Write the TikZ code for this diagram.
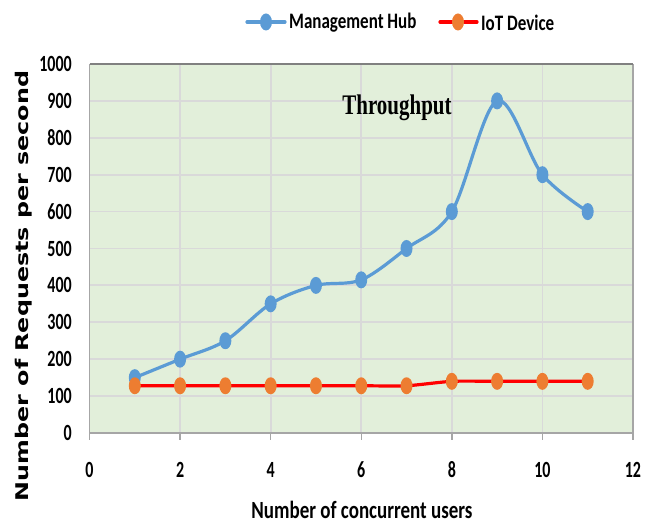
\documentclass[tikz,border=0pt]{standalone}
\usepackage{fontspec}
\setmainfont{Carlito}
\newfontfamily\labelfont{DejaVu Sans}
\newfontfamily\titlefont{Liberation Serif}
\usetikzlibrary{}

\definecolor{plotbg}{HTML}{E2EFDA}
\definecolor{gridc}{HTML}{D9D9D9}
\definecolor{axisc}{HTML}{A6A6A6}
\definecolor{hubblue}{HTML}{5B9BD5}
\definecolor{iotorange}{HTML}{ED7D31}
\definecolor{iotred}{HTML}{FF0000}

% tall, narrow lettering
\newcommand{\tallbf}[2][1.45]{\scalebox{1}[#1]{\bfseries #2}}

\tikzset{
  ticklabel/.style={font=\fontsize{16}{16}\selectfont, inner sep=0pt},
  hubline/.style={hubblue, line width=3.2pt, line cap=round, line join=round},
  iotline/.style={iotred, line width=3.2pt, line cap=round, line join=round},
  gridline/.style={gridc, line width=1.8pt},
}

\begin{document}
\begin{tikzpicture}[x=1pt, y=1pt]
\useasboundingbox (0,0) rectangle (654,526);

% legend
\draw[hubline] (247,504) -- (285,504);
\fill[hubblue] (266,504) ellipse (6 and 8.5);
\node[anchor=west, inner sep=0pt] (leghub) at (289,503) {\fontsize{17}{17}\selectfont\tallbf[1.3]{Management Hub}};
\draw[iotline] (440,504) -- (477,504);
\fill[iotorange] (458,504) ellipse (6 and 8.5);
\node[anchor=west, inner sep=0pt] (legiot) at (481,503) {\fontsize{17}{17}\selectfont\tallbf[1.3]{IoT Device}};

\begin{scope}[shift={(89.5pt,93pt)}, x=45.29pt, y=0.369pt]
  % plot area
  \fill[plotbg] (0,0) rectangle (12,1000);
  \foreach \v in {100,200,...,900} \draw[gridline] (0,\v) -- (12,\v);
  \foreach \u in {2,4,...,10} \draw[gridline] (\u,0) -- (\u,1000);
  \draw[axisc, line width=1.6pt] (0,0) -- (0,1000);
  \draw[axisc, line width=1.6pt] (12,0) -- (12,1000);
  \draw[gray, line width=2pt] (0,1000) -- (12,1000);
  % horizontal axis with ticks
  \draw[axisc, line width=1.6pt] (0,0) -- (12,0);
  \foreach \u in {0,2,...,12} \draw[axisc, line width=1.4pt] (\u,0) -- ++(0,-20);

  % tick labels
  \foreach \v in {0,100,...,1000}
    \node[ticklabel, anchor=east] (yl\v) at ([xshift=-17.5pt]0,\v) {\tallbf{\v}};
  \foreach \u in {0,2,...,12}
    \node[ticklabel] (xl\u) at ([yshift=-37pt]\u,0) {\tallbf{\u}};

  % Management Hub series
  \draw[hubline] plot[smooth, tension=0.55] coordinates {
    (1,150) (2,200) (3,250) (4,350) (5,400) (6,415)
    (7,500) (8,600) (9,900) (10,700) (11,600)};
  \foreach \u/\v in {1/150,2/200,3/250,4/350,5/400,6/415,7/500,8/600,9/900,10/700,11/600}
    \fill[hubblue] (\u,\v) ellipse (6pt and 8.5pt);

  % IoT Device series
  \draw[iotline] plot[smooth, tension=0.4] coordinates {
    (1,128) (2,128) (3,128) (4,128) (5,128) (6,128)
    (7,128) (8,140) (9,140) (10,140) (11,140)};
  \foreach \u/\v in {1/128,2/128,3/128,4/128,5/128,6/128,7/128,8/140,9/140,10/140,11/140}
    \fill[iotorange] (\u,\v) ellipse (6pt and 8.5pt);
\end{scope}

% titles
\node[inner sep=0pt] (charttitle) at (397,418) {\titlefont\fontsize{21}{21}\selectfont\tallbf[1.35]{Throughput}};
\node[inner sep=0pt, anchor=base] (xtitle) at (362,7) {\fontsize{19}{19}\selectfont\tallbf[1.3]{Number of concurrent users}};
\node[inner sep=0pt, rotate=90, anchor=base] (ytitle) at (28.5,240) {\labelfont\fontsize{17.5}{17.5}\selectfont\scalebox{1.36}[1]{\bfseries Number of Requests per second}};
\end{tikzpicture}
\end{document}
